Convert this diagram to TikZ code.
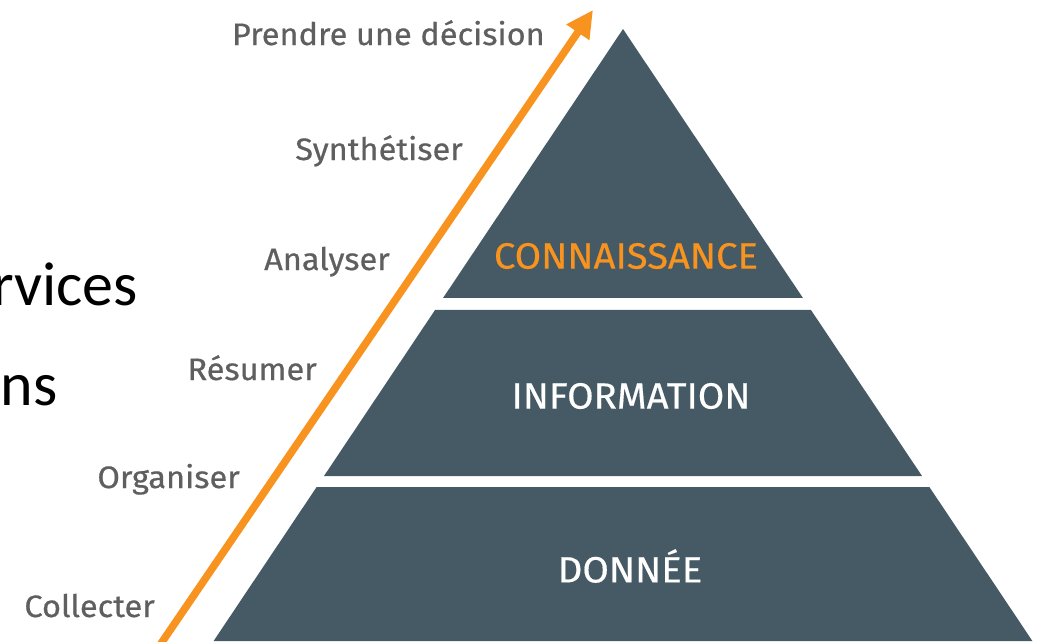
\documentclass[tikz,border=0pt]{standalone}
\usepackage{fontspec}
\usetikzlibrary{calc,arrows.meta}
\newfontfamily\stepfont[FakeStretch=1.05,FakeBold=0.6]{Fira Sans}
\newfontfamily\tierfont[FakeStretch=1.05,FakeBold=0.4]{Fira Sans}
\newfontfamily\slidefont{Carlito}
\definecolor{slate}{HTML}{455A64}
\definecolor{amber}{HTML}{F7931E}
\definecolor{greytext}{HTML}{5F5F5F}
\tikzset{
  tier/.style={fill=slate},
  tierlabel/.style={font=\tierfont\fontsize{36.5}{36.5}\selectfont, text=white, inner sep=0pt},
  steplabel/.style={font=\stepfont\fontsize{31}{31}\selectfont, text=greytext, inner sep=0pt, anchor=base east},
  slidetext/.style={font=\slidefont\fontsize{62}{62}\selectfont, inner sep=0pt, anchor=base east}
}
\begin{document}
\begin{tikzpicture}[x=1pt,y=-1pt]
\useasboundingbox (0,0) rectangle (1041,641);
\clip (0,0) rectangle (1041,641);

\coordinate (apex) at (623,29);
\coordinate (footL) at (213.6,641);
\coordinate (footR) at (1032.4,641);

% three tiers of the pyramid
\fill[tier] (apex)--($(apex)!0.4395!(footL)$)--($(apex)!0.4395!(footR)$)--cycle;
\fill[tier] ($(apex)!0.4591!(footL)$)--($(apex)!0.7304!(footL)$)--($(apex)!0.7304!(footR)$)--($(apex)!0.4591!(footR)$)--cycle;
\fill[tier] ($(apex)!0.7484!(footL)$)--(footL)--(footR)--($(apex)!0.7484!(footR)$)--cycle;

\node[tierlabel, text=amber] (know) at (626,256) {CONNAISSANCE};
\node[tierlabel] (info) at (631,396) {INFORMATION};
\node[tierlabel] (data) at (630,566) {DONNÉE};

% the rising arrow
\coordinate (arrowstart) at (160,645);
\coordinate (arrowtip) at (593,10);
\draw[amber, line width=7.5pt, -{Triangle[length=27pt,width=26pt]}] (arrowstart)--(arrowtip);

\node[steplabel] (decide) at (545,45) {Prendre une décision};
\node[steplabel] (synth) at (463,160) {Synthétiser};
\node[steplabel] (analyse) at (390,270) {Analyser};
\node[steplabel] (resume) at (317,380) {Résumer};
\node[steplabel] (organise) at (240,488) {Organiser};
\node[steplabel] (collect) at (155,617) {Collecter};

\node[slidetext] (services) at (138,305) {rvices};
\node[slidetext] (actions) at (58,405) {ns};
\end{tikzpicture}
\end{document}
